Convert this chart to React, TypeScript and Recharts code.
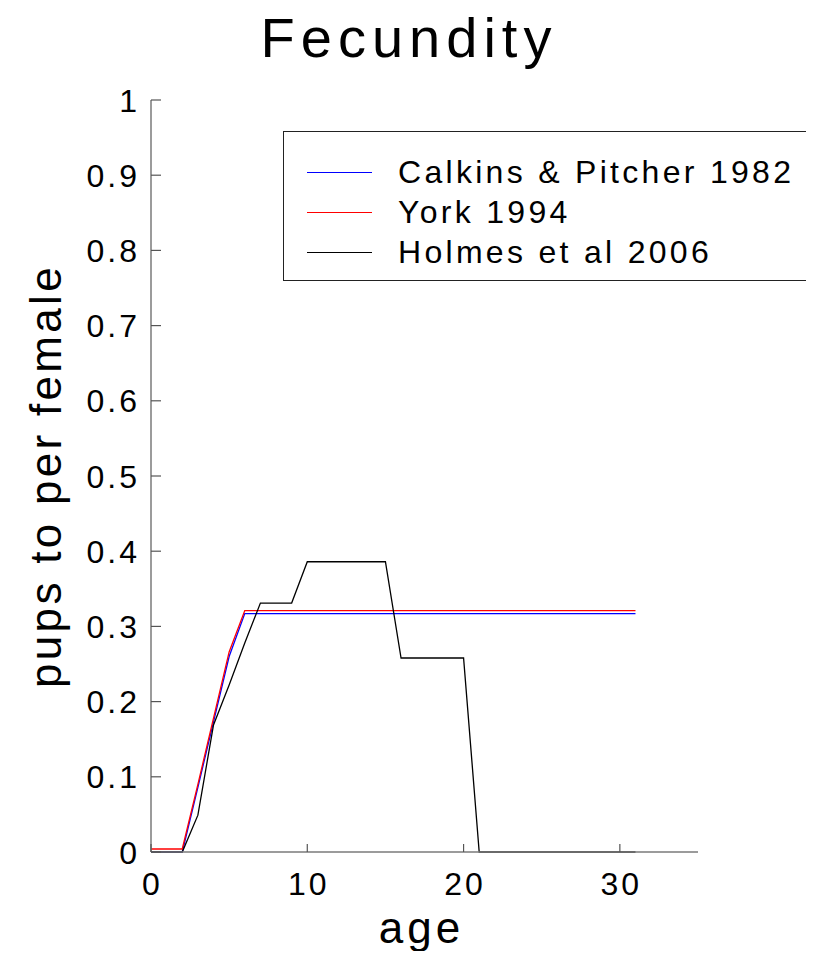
import React from 'react'
import { LineChart, Line, XAxis, YAxis, Label } from 'recharts'

// age classes
const ages = [0, 1, 2, 3, 4, 5, 6, 7, 8, 9, 10, 11, 12, 13, 14, 15, 16, 17, 18, 19, 20, 21, 22, 23, 24, 25, 26, 27, 28, 29, 30, 31]

// pups per female
const calkins = [0, 0, 0, 0.086, 0.173, 0.26, 0.317, 0.317, 0.317, 0.317, 0.317, 0.317, 0.317, 0.317, 0.317, 0.317, 0.317, 0.317, 0.317, 0.317, 0.317, 0.317, 0.317, 0.317, 0.317, 0.317, 0.317, 0.317, 0.317, 0.317, 0.317, 0.317]
const york = [0.004, 0.004, 0.004, 0.09, 0.178, 0.266, 0.321, 0.321, 0.321, 0.321, 0.321, 0.321, 0.321, 0.321, 0.321, 0.321, 0.321, 0.321, 0.321, 0.321, 0.321, 0.321, 0.321, 0.321, 0.321, 0.321, 0.321, 0.321, 0.321, 0.321, 0.321, 0.321]
const holmes = [0, 0, 0, 0.049, 0.169, 0.222, 0.278, 0.331, 0.331, 0.331, 0.386, 0.386, 0.386, 0.386, 0.386, 0.386, 0.258, 0.258, 0.258, 0.258, 0.258, 0, 0, 0, 0, 0, 0, 0, 0, 0, 0, 0]

const seriesKeys = ['calkins', 'york', 'holmes']
const seriesNames = ['Calkins & Pitcher 1982', 'York 1994', 'Holmes et al 2006']
const seriesColors = ['#0000ff', '#ff0000', '#000000']

const xTicks = [0, 10, 20, 30]
const yTicks = [0, 0.1, 0.2, 0.3, 0.4, 0.5, 0.6, 0.7, 0.8, 0.9, 1]

const data = ages.map((age, i) => ({ age, calkins: calkins[i], york: york[i], holmes: holmes[i] }))

const FONT = '"Liberation Sans", Arial, Helvetica, sans-serif'

const YTick = (props: any) => {
  const { x, y, payload } = props
  return <g>
    <line x1={x} x2={x + 10} y1={y} y2={y} stroke="#555" strokeWidth={1.2} />
    <text x={x - 11} y={y} dy="0.36em" textAnchor="end" fontSize={32} letterSpacing={3} fill="#000" fontFamily={FONT}>
      {String(payload.value)}
    </text>
  </g>
}

const XTick = (props: any) => {
  const { x, y, payload } = props
  return <g>
    <line x1={x} x2={x} y1={y} y2={y - 8} stroke="#555" strokeWidth={1.2} />
    <text x={x + 1.5} y={y + 43} textAnchor="middle" fontSize={32} letterSpacing={3} fill="#000" fontFamily={FONT}>
      {String(payload.value)}
    </text>
  </g>
}

// legend box: no right border, it runs off the edge in the original
const LegendBox = () => (
  <div style={{ position: 'absolute', left: 283, top: 131, width: 600, height: 150, borderTop: '1.5px solid #222', borderBottom: '1.5px solid #222', borderLeft: '1.5px solid #222', boxSizing: 'border-box', background: '#fff', paddingTop: 20, zIndex: 2 }}>
    {seriesNames.map((name, i) => (
      <div key={name} style={{ display: 'flex', alignItems: 'center', height: 40 }}>
        <div style={{ marginLeft: 23, width: 65, borderTop: '1.3px solid ' + seriesColors[i] }} />
        <span style={{ marginLeft: 26, fontSize: 32, letterSpacing: 3.3, lineHeight: '40px', whiteSpace: 'nowrap', color: '#000' }}>{name}</span>
      </div>
    ))}
  </div>
)

export default function App() {
  return <div style={{ margin: -8, width: 814, height: 959, position: 'relative', overflow: 'hidden', background: '#fff', fontFamily: FONT }}>
    <div style={{ position: 'absolute', left: 0, width: 814, top: 10, textAlign: 'center', fontSize: 56, lineHeight: '56px', letterSpacing: 6, paddingLeft: 4, boxSizing: 'border-box' }}>
      Fecundity
    </div>
    <LineChart
      width={814}
      height={959}
      data={data}
      margin={{ top: 100, right: 116, bottom: 0, left: 0 }}
    >
      <XAxis
        dataKey="age"
        type="number"
        domain={[0, 35]}
        ticks={xTicks}
        interval={0}
        height={107}
        tickSize={0}
        tickMargin={0}
        tick={<XTick />}
        axisLine={{ stroke: '#7a7a7a', strokeWidth: 1.5 }}
      >
        <Label content={(p: any) => {
          const vb = p.viewBox
          return <text x={vb.x + vb.width / 2 - 3} y={943} textAnchor="middle" fontSize={44} letterSpacing={4} fill="#000" fontFamily={FONT}>age</text>
        }} />
      </XAxis>
      <YAxis
        type="number"
        domain={[0, 1]}
        ticks={yTicks}
        interval={0}
        width={151}
        tickSize={0}
        tickMargin={0}
        tick={<YTick />}
        axisLine={{ stroke: '#7a7a7a', strokeWidth: 1.5 }}
      >
        <Label content={(p: any) => {
          const vb = p.viewBox
          const cy = vb.y + vb.height / 2
          return <text x={61} y={cy} transform={`rotate(-90, 61, ${cy})`} textAnchor="middle" fontSize={44} letterSpacing={3.3} fill="#000" fontFamily={FONT}>pups to per female</text>
        }} />
      </YAxis>
      {seriesKeys.map((key, i) => (
        <Line
          key={key}
          type="linear"
          dataKey={key}
          name={seriesNames[i]}
          stroke={seriesColors[i]}
          strokeWidth={1.3}
          dot={false}
          activeDot={false}
          isAnimationActive={false}
        />
      ))}
    </LineChart>
    <LegendBox />
  </div>
}
